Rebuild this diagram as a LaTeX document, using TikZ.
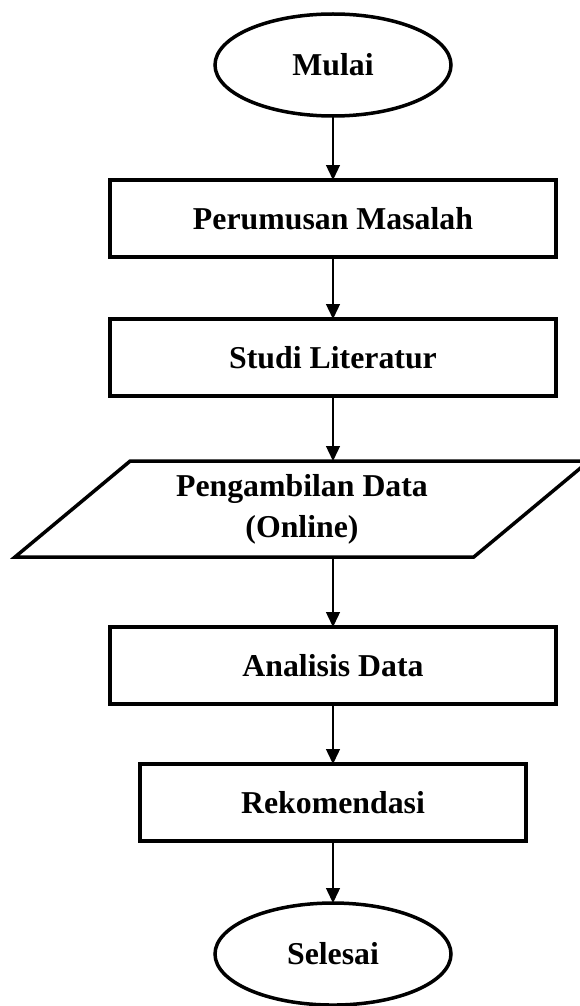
\documentclass[tikz,border=0pt]{standalone}
\usepackage{fontspec}
\setmainfont{Liberation Serif}
\usepackage{tikz}
\usetikzlibrary{positioning, arrows.meta, shapes.geometric}

\begin{document}
\begin{tikzpicture}[
    x=1pt, y=1pt,
    base/.style={draw, line width=3.5pt, align=center, inner sep=0pt, outer sep=0pt,
                 font=\fontsize{31.8}{41}\selectfont\bfseries},
    term/.style={base, ellipse, minimum width=236pt, minimum height=102pt},
    proc/.style={base, rectangle, minimum width=446pt, minimum height=77pt},
    io/.style={base, trapezium, trapezium left angle=39.6, trapezium right angle=140.4,
               trapezium stretches=true, minimum width=577pt, minimum height=96pt},
    arr/.style={-{Triangle[length=15pt, width=14pt]}, line width=1.3pt},
]
\useasboundingbox (0,0) rectangle (579,-1006);

% Start
\node[term] (mulai) at (333,-65) {Mulai};

% Steps
\node[proc, below=64pt of mulai] (rumusan) {Perumusan Masalah};
\node[proc, below=62pt of rumusan] (studi) {Studi Literatur};
\node[io, below=65pt of studi, xshift=-31pt] (data) {Pengambilan Data\\(Online)};
\node[proc, below=70pt of data, xshift=31pt] (analisis) {Analisis Data};
\node[proc, minimum width=386pt, below=60pt of analisis] (rekom) {Rekomendasi};

% End
\node[term, below=62pt of rekom] (selesai) {Selesai};

\draw[arr] (mulai) -- (rumusan);
\draw[arr] (rumusan) -- (studi);
\draw[arr] (studi) -- (studi |- data.north);
\draw[arr] (data.south -| analisis) -- (analisis);
\draw[arr] (analisis) -- (rekom);
\draw[arr] (rekom) -- (selesai);

\end{tikzpicture}
\end{document}
